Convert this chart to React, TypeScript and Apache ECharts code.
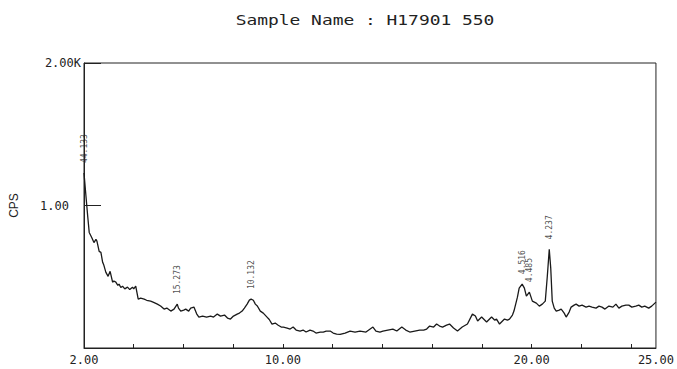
import React, { useEffect, useRef } from "react";
import * as echarts from "echarts";

// Diffraction scan: 2θ (degrees) vs counts per second
const twoTheta = [
  2.0, 2.08, 2.15, 2.21, 2.31, 2.4, 2.48, 2.52, 2.61, 2.68, 2.75, 2.8, 2.88, 2.97, 3.05, 3.15, 3.2, 3.28, 3.36, 3.41,
  3.48, 3.55, 3.64, 3.75, 3.84, 3.95, 4.0, 4.08, 4.18, 4.28, 4.42, 4.52, 4.68, 4.8, 4.95, 5.08, 5.22, 5.33, 5.49, 5.62,
  5.75, 5.8, 5.89, 6.01, 6.09, 6.21, 6.29, 6.42, 6.53, 6.62, 6.77, 6.93, 7.09, 7.21, 7.36, 7.49, 7.65, 7.77, 7.89, 8.01,
  8.16, 8.25, 8.36, 8.45, 8.56, 8.65, 8.72, 8.81, 8.89, 8.97, 9.09, 9.21, 9.36, 9.45, 9.56, 9.69, 9.81, 9.93, 10.02, 10.17,
  10.29, 10.41, 10.53, 10.69, 10.81, 10.93, 11.09, 11.21, 11.33, 11.5, 11.62, 11.74, 11.9, 12.02, 12.16, 12.3, 12.5, 12.7, 12.9, 13.1,
  13.34, 13.62, 13.74, 13.9, 14.02, 14.22, 14.42, 14.58, 14.78, 14.94, 15.1, 15.3, 15.5, 15.66, 15.78, 15.9, 16.06, 16.18, 16.3, 16.42,
  16.58, 16.7, 16.86, 17.02, 17.21, 17.42, 17.62, 17.74, 17.83, 17.99, 18.11, 18.19, 18.31, 18.39, 18.51, 18.59, 18.71, 18.83, 18.91, 19.03,
  19.11, 19.23, 19.29, 19.43, 19.5, 19.62, 19.71, 19.79, 19.91, 20.03, 20.19, 20.31, 20.43, 20.55, 20.63, 20.71, 20.77, 20.83, 20.91, 20.99,
  21.11, 21.19, 21.31, 21.39, 21.51, 21.59, 21.71, 21.79, 21.91, 22.03, 22.19, 22.31, 22.43, 22.59, 22.71, 22.83, 22.95, 23.11, 23.27, 23.39,
  23.51, 23.63, 23.79, 23.91, 24.03, 24.19, 24.31, 24.43, 24.55, 24.71, 24.83, 25.0,
];

const cps = [
  1228, 1063, 923, 811, 776, 740, 762, 750, 678, 671, 601, 580, 531, 503, 538, 462, 470, 462, 440, 448,
  425, 434, 415, 427, 410, 427, 415, 434, 343, 350, 343, 335, 329, 320, 308, 295, 273, 280, 259, 273,
  308, 280, 259, 266, 273, 259, 280, 287, 240, 217, 224, 217, 224, 217, 238, 224, 231, 210, 203, 224,
  238, 245, 259, 280, 308, 336, 343, 335, 308, 295, 259, 245, 217, 200, 168, 175, 160, 147, 147, 140,
  133, 147, 126, 119, 126, 112, 126, 119, 105, 112, 112, 119, 119, 105, 98, 95, 105, 119, 112, 119,
  112, 147, 119, 112, 119, 126, 133, 119, 147, 126, 112, 119, 126, 126, 133, 154, 147, 168, 154, 147,
  161, 168, 140, 119, 147, 168, 238, 224, 189, 217, 196, 182, 203, 217, 196, 203, 168, 189, 203, 196,
  203, 231, 259, 357, 420, 448, 420, 364, 392, 329, 315, 294, 308, 329, 500, 692, 560, 329, 280, 259,
  266, 273, 245, 217, 252, 287, 301, 308, 294, 301, 287, 294, 287, 280, 294, 287, 273, 294, 287, 308,
  280, 294, 301, 301, 287, 294, 301, 287, 294, 280, 294, 322,
];

// Peaks annotated with their d-spacing (Å)
const peakAngles = [2.0, 5.75, 8.72, 19.62, 19.91, 20.71];
const peakCps = [1228, 308, 343, 448, 392, 692];
const peakLabels = ["44.133", "15.273", "10.132", "4.516", "4.485", "4.237"];

const xLabelValues = [2, 10, 20, 25];
const xTickValues = [4, 6, 8, 10, 12, 14, 16, 18, 20, 22, 24];

const titleText = "Sample Name : H17901 550";
const mono = "DejaVu Sans Mono";

export default function App() {
  const ref = useRef<HTMLDivElement>(null);

  useEffect(() => {
    if (!ref.current) return;
    const chart = echarts.init(ref.current, null, { renderer: "svg" });

    const lineData = twoTheta.map((t, i) => [t, cps[i]]);
    const peakData = peakAngles.map((t, i) => ({
      value: [t, peakCps[i]],
      label: { formatter: peakLabels[i] },
    }));

    chart.setOption({
      animation: false,
      backgroundColor: "#ffffff",
      grid: {
        left: 83,
        right: 20,
        top: 63,
        bottom: 21,
        show: true,
        borderColor: "#222",
        borderWidth: 1,
        backgroundColor: "transparent",
      },
      graphic: [
        {
          type: "text",
          x: 365,
          y: 20,
          scaleX: 1.28,
          style: {
            text: titleText,
            font: `14px "${mono}"`,
            fill: "#222",
            align: "center",
            verticalAlign: "middle",
          },
        },
      ],
      xAxis: {
        type: "value",
        min: 2,
        max: 25,
        splitLine: { show: false },
        axisLine: { show: true, lineStyle: { color: "#222", width: 1 } },
        axisTick: {
          show: true,
          inside: true,
          length: 4,
          customValues: xTickValues,
          lineStyle: { color: "#222" },
        },
        axisLabel: {
          customValues: xLabelValues,
          formatter: (v: number) => v.toFixed(2),
          fontFamily: mono,
          fontSize: 12,
          color: "#222",
          margin: 6,
        },
      },
      yAxis: {
        type: "value",
        min: 0,
        max: 2000,
        interval: 1000,
        name: "CPS",
        nameLocation: "middle",
        nameGap: 64,
        nameRotate: 90,
        nameTextStyle: { fontFamily: "Liberation Sans", fontSize: 12, color: "#222" },
        splitLine: { show: false },
        axisLine: { show: true, lineStyle: { color: "#222", width: 1 } },
        axisTick: { show: true, inside: true, length: 17, lineStyle: { color: "#222" } },
        axisLabel: {
          fontFamily: mono,
          fontSize: 12,
          color: "#222",
          margin: 3,
          formatter: (v: number) => (v === 2000 ? "{k|2.00K}" : v === 1000 ? "{u|1.00}" : ""),
          rich: {
            k: { fontFamily: mono, fontSize: 12, color: "#222" },
            u: { fontFamily: mono, fontSize: 12, color: "#222", padding: [0, 12, 0, 0] },
          },
        },
      },
      series: [
        {
          type: "line",
          data: lineData,
          showSymbol: false,
          symbol: "none",
          lineStyle: { color: "#1a1a1a", width: 1.3 },
          z: 3,
        },
        {
          type: "scatter",
          data: peakData,
          symbolSize: 0,
          itemStyle: { color: "transparent" },
          label: {
            show: true,
            position: "top",
            distance: 10,
            rotate: 90,
            align: "left",
            verticalAlign: "middle",
            fontFamily: mono,
            fontSize: 8,
            color: "#222",
          },
          z: 4,
        },
      ],
    });

    return () => chart.dispose();
  }, []);

  return (
    <div
      ref={ref}
      style={{ position: "fixed", left: 0, top: 0, width: 677, height: 369 }}
    />
  );
}
